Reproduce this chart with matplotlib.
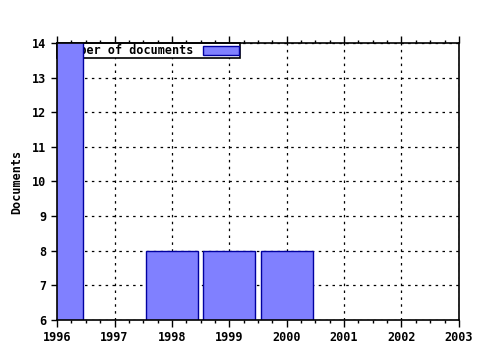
import matplotlib
matplotlib.use('Agg')
import matplotlib.pyplot as plt
from matplotlib.ticker import MultipleLocator

# data (1996 bar runs off the top)
years = [1996, 1998, 1999, 2000]
documents = [15, 8, 8, 8]
series_label = 'Number of documents'

x_ticks = list(range(1996, 2004))
y_ticks = list(range(6, 15))

plt.rcParams['font.family'] = 'DejaVu Sans Mono'
plt.rcParams['font.weight'] = 'bold'
plt.rcParams['axes.labelweight'] = 'bold'
plt.rcParams['font.size'] = 8.5

fig = plt.figure(figsize=(4.8, 3.5), dpi=100)
ax = fig.add_axes([0.119, 0.086, 0.837, 0.791])

bars = ax.bar(years, documents, width=0.9, bottom=0, color='#8080ff',
              edgecolor='#0000a0', linewidth=1.0, zorder=3, label=series_label)

ax.set_xlim(1996, 2003)
ax.set_ylim(6, 14)
ax.set_xticks(x_ticks)
ax.set_yticks(y_ticks)
ax.xaxis.set_minor_locator(MultipleLocator(0.25))

# gnuplot-like ticks: outward, mirrored on top, none on the right
ax.tick_params(axis='x', which='major', direction='out', length=5, width=1,
               top=True, pad=3)
ax.tick_params(axis='x', which='minor', direction='out', length=2.5, width=1,
               top=True)
ax.tick_params(axis='y', which='major', direction='out', length=4, width=1,
               right=False, pad=4)

ax.grid(True, which='major', color='black', linestyle=(0, (2, 3.5)),
        linewidth=0.9, zorder=1)

for s in ax.spines.values():
    s.set_linewidth(1.2)
    s.set_zorder(5)

ax.set_ylabel('Documents', labelpad=6)

leg = ax.legend(loc='upper left', bbox_to_anchor=(0.0, 1.0), frameon=True,
                fancybox=False, edgecolor='black', framealpha=1,
                borderpad=0.1, handlelength=3.0, handleheight=0.8,
                markerfirst=False, borderaxespad=0.0)
leg.get_frame().set_linewidth(1.2)
leg.set_zorder(2)

fig.savefig('out.png', dpi=100)
